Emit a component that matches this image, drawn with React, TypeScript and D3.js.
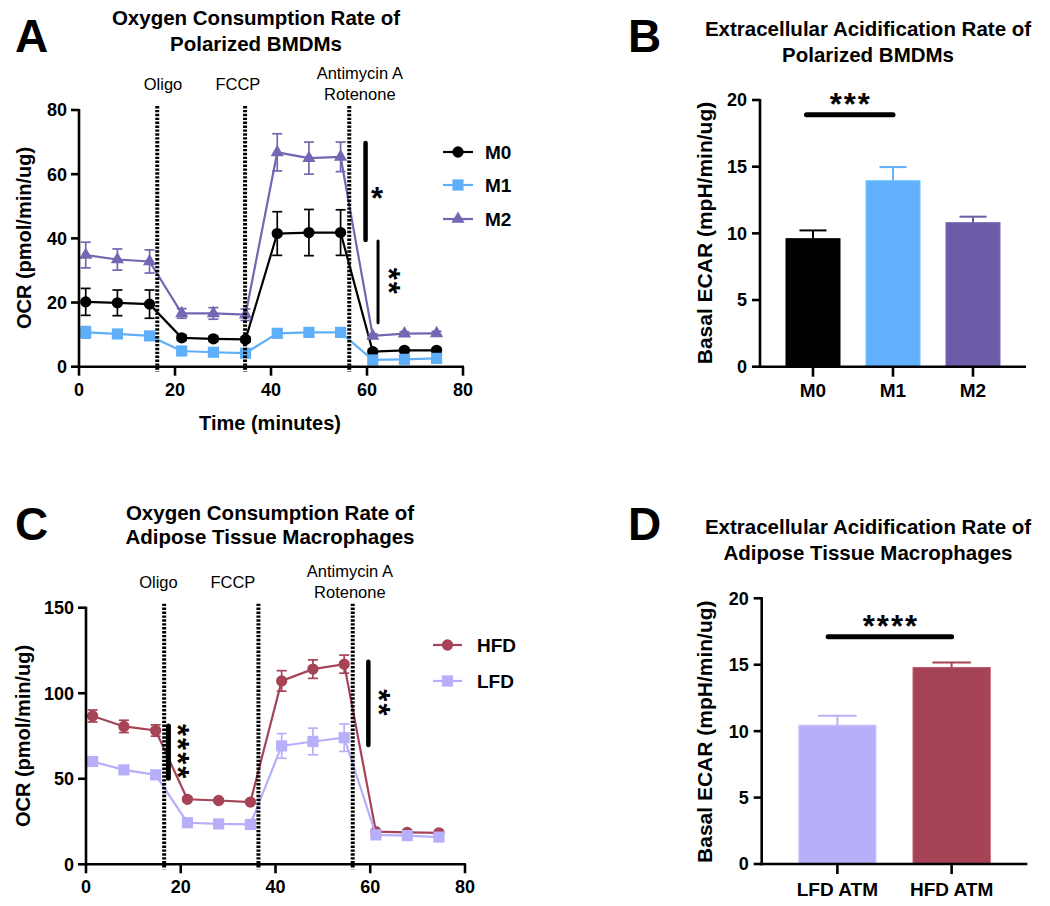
import React from 'react'
import * as d3 from 'd3'

const FONT = '"Liberation Sans", Arial, sans-serif'

// Seahorse measurement times (minutes)
const times = [1.4, 8, 14.7, 21.4, 28, 34.7, 41.3, 47.9, 54.5, 61.2, 67.8, 74.5]

// Panel A – OCR of polarized BMDMs
const m0 = [20.2, 19.9, 19.5, 9.0, 8.7, 8.5, 41.5, 41.8, 41.8, 4.7, 5.1, 5.1]
const m0Err = [4.2, 4.0, 4.4, 0.8, 0.8, 0.8, 6.8, 7.2, 7.1, 0.6, 0.6, 0.6]
const m1 = [10.7, 10.2, 9.6, 4.9, 4.5, 4.2, 10.4, 10.7, 10.7, 2.1, 2.3, 2.6]
const m1Err = [1.8, 1.0, 1.0, 0.6, 0.5, 0.5, 1.0, 1.0, 1.0, 0.4, 0.4, 0.4]
const m2 = [34.8, 33.4, 32.8, 16.6, 16.6, 16.2, 66.8, 65.0, 65.4, 9.6, 10.3, 10.4]
const m2Err = [4.0, 3.3, 3.6, 1.5, 1.8, 1.8, 5.8, 5.0, 4.6, 0.6, 0.6, 0.6]
const injectionsA = [16.3, 34.6, 56.3]

// Panel C – OCR of adipose tissue macrophages
const hfd = [86.7, 80.6, 78.2, 38.0, 37.3, 36.4, 107.2, 114.1, 117.0, 19.1, 18.7, 18.4]
const hfdErr = [3.5, 3.6, 3.3, 1.2, 1.0, 1.0, 6.0, 5.4, 5.3, 1.0, 1.0, 1.0]
const lfd = [60.1, 55.2, 52.3, 24.3, 23.6, 23.3, 69.2, 71.8, 74.0, 17.2, 16.8, 15.9]
const lfdErr = [2.0, 1.5, 1.5, 1.2, 1.0, 1.0, 7.2, 7.8, 8.0, 1.0, 1.0, 1.0]
const injectionsC = [16.5, 36.4, 56.3]

const injectionNames = [['Oligo'], ['FCCP'], ['Antimycin A', 'Rotenone']]

// Panel B – basal ECAR of BMDMs
const bmdmGroups = ['M0', 'M1', 'M2']
const bmdmEcar = [9.6, 13.95, 10.8]
const bmdmEcarErr = [0.62, 1.02, 0.45]

// Panel D – basal ECAR of ATMs
const atmGroups = ['LFD ATM', 'HFD ATM']
const atmEcar = [10.45, 14.78]
const atmEcarErr = [0.7, 0.38]

const sym = (type, size) => d3.symbol().type(type).size(size)()

function Stars({ x, y, label, rotate }) {
  // asterisk glyph centre sits ~0.58em above the baseline
  const fs = 31
  const off = fs * 0.58
  const t = rotate ? `translate(${x - off},${y}) rotate(90)` : `translate(${x},${y + off})`
  return (
    <text transform={t} textAnchor="middle" fontFamily={FONT} fontWeight="bold" fontSize={fs} letterSpacing={2}>
      {label}
    </text>
  )
}

function Title({ x, ys, lines, letter, letterX, letterY }) {
  return (
    <g fontFamily={FONT} fontWeight="bold">
      <text x={letterX} y={letterY} fontSize={46}>{letter}</text>
      {lines.map((l, i) => (
        <text key={i} x={x} y={ys[i]} fontSize={20.5} textAnchor="middle">{l}</text>
      ))}
    </g>
  )
}

function OcrPanel(p) {
  const { box, yMax, yStep, series, injections, labelTimes, sigs, legend } = p
  const x = d3.scaleLinear().domain([0, 80]).range([box.x0, box.x1])
  const y = d3.scaleLinear().domain([0, yMax]).range([box.y0, box.y1])
  const line = d3.line().x((_, i) => x(times[i])).y(v => y(v))
  const xTicks = d3.range(0, 81, 20)
  const yTicks = d3.range(0, yMax + 1, yStep)
  return (
    <g>
      <Title {...p.title} />
      {series.map(s => (
        <g key={s.name}>
          <path d={line(s.values)} fill="none" stroke={s.color} strokeWidth={2.2} />
          {s.values.map((v, i) => (
            <g key={i} stroke={s.color} strokeWidth={1.7}>
              <line x1={x(times[i])} x2={x(times[i])} y1={y(v - s.errs[i])} y2={y(v + s.errs[i])} />
              <line x1={x(times[i]) - 5} x2={x(times[i]) + 5} y1={y(v + s.errs[i])} y2={y(v + s.errs[i])} />
              <line x1={x(times[i]) - 5} x2={x(times[i]) + 5} y1={y(v - s.errs[i])} y2={y(v - s.errs[i])} />
            </g>
          ))}
          {s.values.map((v, i) => (
            <path key={'m' + i} d={sym(s.shape, s.size)} fill={s.color} transform={`translate(${x(times[i])},${y(v)})`} />
          ))}
        </g>
      ))}
      {injections.map((t, i) => (
        <line key={i} x1={x(t)} x2={x(t)} y1={y(yMax) - 4} y2={y(0) + 5} stroke="#000" strokeWidth={4} strokeDasharray="2.4 1.5" />
      ))}
      {injectionNames.map((names, i) => (
        <g key={i} fontFamily={FONT} fontSize={16.5} textAnchor="middle">
          {names.length === 1 ? (
            <text x={x(labelTimes[i])} y={y(yMax) - 20}>{names[0]}</text>
          ) : (
            names.map((n, j) => (
              <text key={j} x={x(labelTimes[i])} y={y(yMax) - 31 + j * 21}>{n}</text>
            ))
          )}
        </g>
      ))}
      {sigs.map((s, i) => (
        <g key={i}>
          <line x1={x(s.t)} x2={x(s.t)} y1={y(s.top)} y2={y(s.bottom)} stroke="#000" strokeWidth={s.w} strokeLinecap="round" />
          <Stars x={x(s.t) + s.dx} y={(y(s.top) + y(s.bottom)) / 2} label={s.label} rotate={s.rotate} />
        </g>
      ))}
      {/* axes */}
      <g stroke="#000" strokeWidth={2.6}>
        <line x1={box.x0} x2={box.x0} y1={y(yMax) - 1} y2={box.y0 + 1.3} />
        <line x1={box.x0 - 1.3} x2={box.x1 + 1} y1={box.y0} y2={box.y0} />
        {yTicks.map(v => <line key={v} x1={box.x0 - 8} x2={box.x0} y1={y(v)} y2={y(v)} />)}
        {xTicks.map(v => <line key={v} x1={x(v)} x2={x(v)} y1={box.y0} y2={box.y0 + 9} />)}
      </g>
      <g fontFamily={FONT} fontWeight="bold" fontSize={18}>
        {yTicks.map(v => <text key={v} x={box.x0 - 12} y={y(v) + 6.4} textAnchor="end">{v}</text>)}
        {xTicks.map(v => <text key={v} x={x(v)} y={box.y0 + 29} textAnchor="middle">{v}</text>)}
        <text transform={`translate(${p.yTitle.x},${p.yTitle.y}) rotate(-90)`} textAnchor="middle" fontSize={20}>OCR (pmol/min/ug)</text>
        {p.xTitle && <text x={p.xTitle.x} y={p.xTitle.y} textAnchor="middle" fontSize={20}>{p.xTitle.text}</text>}
      </g>
      {/* legend */}
      {series.map((s, i) => (
        <g key={'lg' + s.name}>
          <line x1={legend.x0} x2={legend.x1} y1={legend.rows[i]} y2={legend.rows[i]} stroke={s.color} strokeWidth={2.2} />
          <path d={sym(s.shape, s.size)} fill={s.color} transform={`translate(${(legend.x0 + legend.x1) / 2},${legend.rows[i]})`} />
          <text x={legend.tx} y={legend.rows[i] + 7} fontFamily={FONT} fontWeight="bold" fontSize={19}>{s.name}</text>
        </g>
      ))}
    </g>
  )
}

function BarPanel(p) {
  const { box, groups, values, errs, colors, sig } = p
  const x = d3.scaleBand().domain(groups).range([box.x0, box.x1]).paddingInner(0.325).paddingOuter(0.325)
  const y = d3.scaleLinear().domain([0, 20]).range([box.y0, box.y1])
  const bw = x.bandwidth()
  const yTicks = d3.range(0, 21, 5)
  const cx = g => x(g) + bw / 2
  return (
    <g>
      <Title {...p.title} />
      {groups.map((g, i) => (
        <g key={g}>
          <rect x={x(g)} y={y(values[i])} width={bw} height={box.y0 - y(values[i])} fill={colors[i]} stroke={d3.color(colors[i]).brighter(0.3)} strokeWidth={1} />
          <g stroke={colors[i]} strokeWidth={2}>
            <line x1={cx(g)} x2={cx(g)} y1={y(values[i])} y2={y(values[i] + errs[i])} />
            <line x1={cx(g) - bw / 4} x2={cx(g) + bw / 4} y1={y(values[i] + errs[i])} y2={y(values[i] + errs[i])} />
          </g>
        </g>
      ))}
      <line x1={cx(groups[sig.from]) - bw * 0.12} x2={cx(groups[sig.to])} y1={y(sig.value)} y2={y(sig.value)} stroke="#000" strokeWidth={5} strokeLinecap="round" />
      <Stars x={(cx(groups[sig.from]) - bw * 0.12 + cx(groups[sig.to])) / 2 + 1} y={y(sig.value) - 18} label={sig.label} rotate={false} />
      <g stroke="#000" strokeWidth={2.6}>
        <line x1={box.x0} x2={box.x0} y1={box.y1 - 1} y2={box.y0 + 1.3} />
        <line x1={box.x0 - 1.3} x2={box.x1} y1={box.y0} y2={box.y0} />
        {yTicks.map(v => <line key={v} x1={box.x0 - 8} x2={box.x0} y1={y(v)} y2={y(v)} />)}
        {groups.map(g => <line key={g} x1={cx(g)} x2={cx(g)} y1={box.y0} y2={box.y0 + 10} />)}
      </g>
      <g fontFamily={FONT} fontWeight="bold" fontSize={18}>
        {yTicks.map(v => <text key={v} x={box.x0 - 13} y={y(v) + 6.4} textAnchor="end">{v}</text>)}
        {groups.map(g => <text key={g} x={cx(g)} y={box.y0 + p.labelDy} textAnchor="middle" fontSize={19}>{g}</text>)}
        <text transform={`translate(${p.yTitle.x},${p.yTitle.y}) rotate(-90)`} textAnchor="middle" fontSize={21}>Basal ECAR (mpH/min/ug)</text>
      </g>
    </g>
  )
}

export default function App() {
  const seriesA = [
    { name: 'M0', values: m0, errs: m0Err, color: '#000000', shape: d3.symbolCircle, size: 100 },
    { name: 'M1', values: m1, errs: m1Err, color: '#5FAEF8', shape: d3.symbolSquare, size: 125 },
    { name: 'M2', values: m2, errs: m2Err, color: '#7366B2', shape: d3.symbolTriangle, size: 75 },
  ]
  const seriesC = [
    { name: 'HFD', values: hfd, errs: hfdErr, color: '#A64356', shape: d3.symbolCircle, size: 100 },
    { name: 'LFD', values: lfd, errs: lfdErr, color: '#B7AFF9', shape: d3.symbolSquare, size: 125 },
  ]
  return (
    <svg width={1050} height={906} style={{ position: 'absolute', left: 0, top: 0, background: '#fff' }}>
      <rect width={1050} height={906} fill="#fff" />
      <OcrPanel
        box={{ x0: 79, x1: 463, y0: 366.7, y1: 110 }}
        yMax={80}
        yStep={20}
        series={seriesA}
        injections={injectionsA}
        labelTimes={[17.5, 33.1, 58.5]}
        sigs={[
          { t: 59.7, top: 69.7, bottom: 39.5, w: 4.5, label: '*', dx: 12.5, rotate: false },
          { t: 62.3, top: 39.2, bottom: 13.7, w: 3, label: '**', dx: 18, rotate: true },
        ]}
        legend={{ x0: 443, x1: 473, tx: 485, rows: [152, 185, 219] }}
        title={{ x: 256, ys: [25, 50.5], lines: ['Oxygen Consumption Rate of', 'Polarized BMDMs'], letter: 'A', letterX: 15, letterY: 52 }}
        yTitle={{ x: 31, y: 238 }}
        xTitle={{ x: 270, y: 430, text: 'Time (minutes)' }}
      />
      <OcrPanel
        box={{ x0: 86, x1: 465, y0: 864.3, y1: 607.7 }}
        yMax={150}
        yStep={50}
        series={seriesC}
        injections={injectionsC}
        labelTimes={[15.3, 31, 55.7]}
        sigs={[
          { t: 17.4, top: 80.8, bottom: 50.3, w: 5, label: '****', dx: 17, rotate: true },
          { t: 59.6, top: 118.4, bottom: 69.7, w: 4.5, label: '**', dx: 18, rotate: true },
        ]}
        legend={{ x0: 433, x1: 462, tx: 477, rows: [645, 681] }}
        title={{ x: 270, ys: [520, 544], lines: ['Oxygen Consumption Rate of', 'Adipose Tissue Macrophages'], letter: 'C', letterX: 15, letterY: 540 }}
        yTitle={{ x: 30, y: 736 }}
      />
      <BarPanel
        box={{ x0: 760, x1: 1026, y0: 366.7, y1: 100 }}
        groups={bmdmGroups}
        values={bmdmEcar}
        errs={bmdmEcarErr}
        colors={['#000000', '#63B1FC', '#6C5CA8']}
        sig={{ from: 0, to: 1, value: 18.9, label: '***' }}
        title={{ x: 868, ys: [35.5, 61.5], lines: ['Extracellular Acidification Rate of', 'Polarized BMDMs'], letter: 'B', letterX: 628, letterY: 52 }}
        yTitle={{ x: 712, y: 233 }}
        labelDy={30}
      />
      <BarPanel
        box={{ x0: 761.7, x1: 1027.3, y0: 864, y1: 598.3 }}
        groups={atmGroups}
        values={atmEcar}
        errs={atmEcarErr}
        colors={['#B7AFF9', '#A64356']}
        sig={{ from: 0, to: 1, value: 17.1, label: '****' }}
        title={{ x: 868, ys: [534, 560], lines: ['Extracellular Acidification Rate of', 'Adipose Tissue Macrophages'], letter: 'D', letterX: 628, letterY: 540 }}
        yTitle={{ x: 712, y: 731.7 }}
        labelDy={32}
      />
    </svg>
  )
}
